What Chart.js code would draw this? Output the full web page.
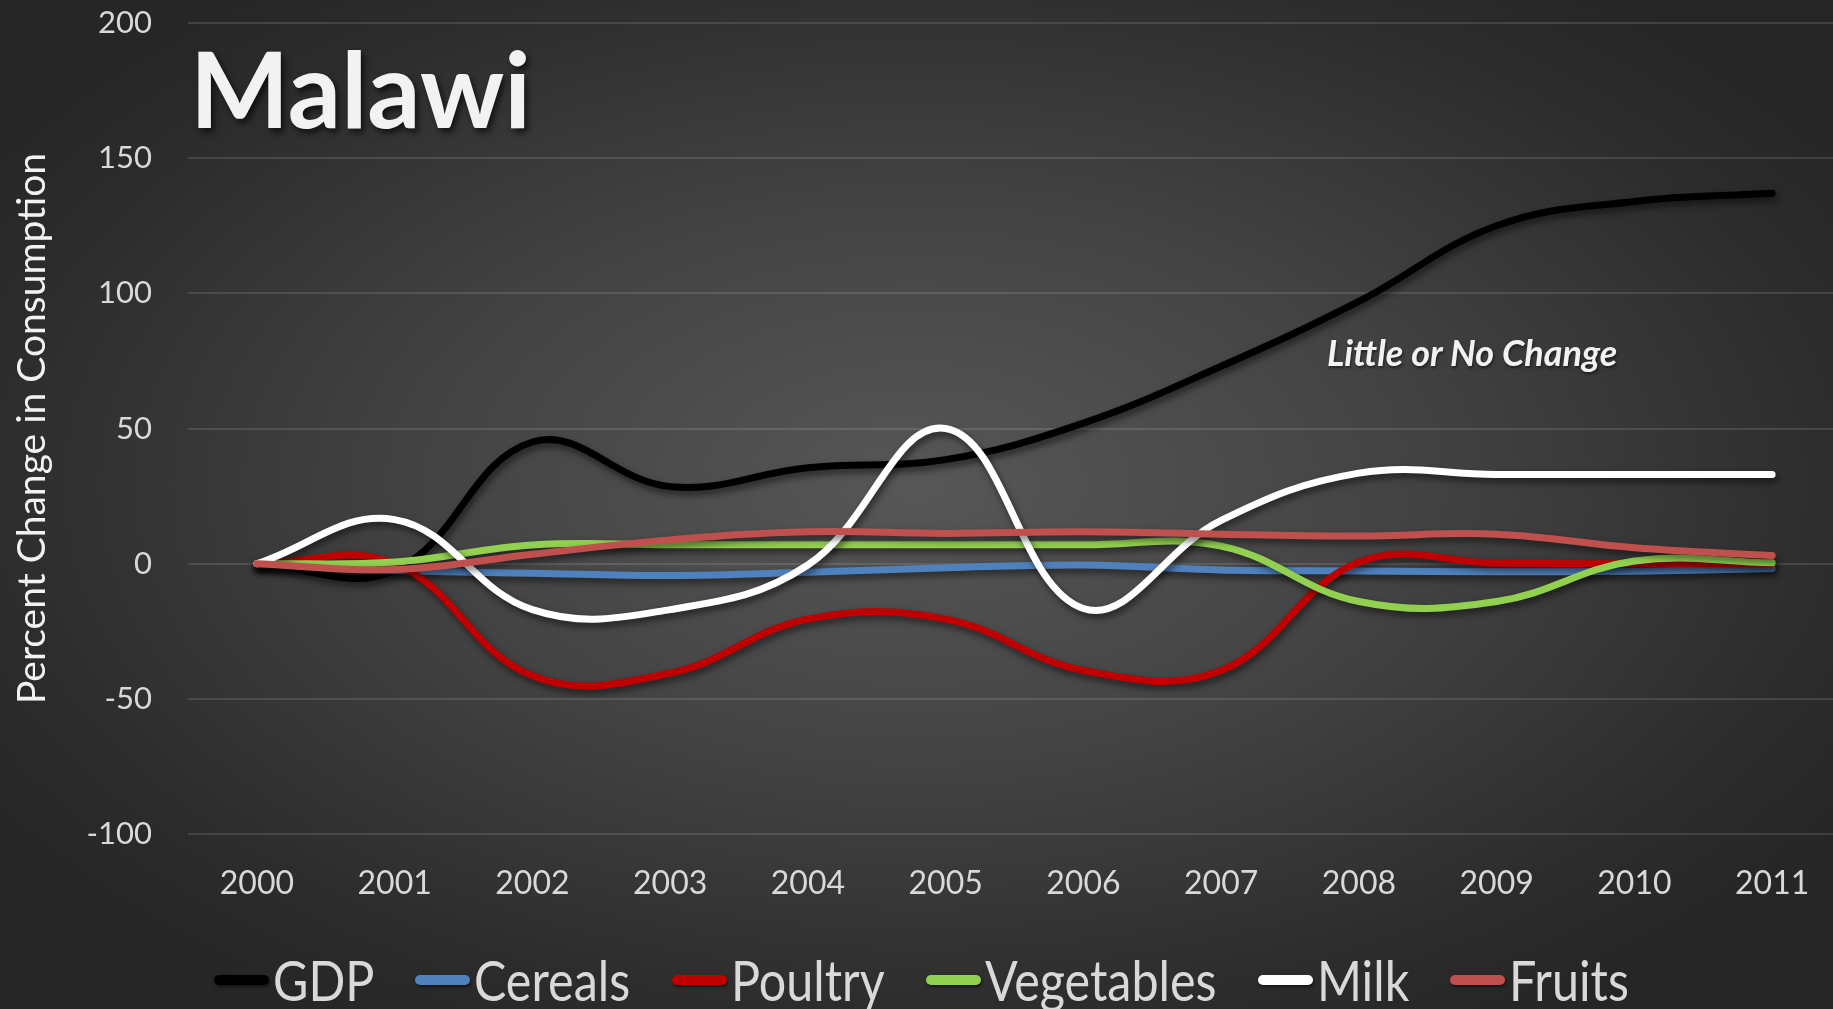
<!DOCTYPE html>
<html>
<head>
<meta charset="utf-8">
<script src="https://cdn.jsdelivr.net/npm/chart.js@4.4.1/dist/chart.umd.min.js"></script>
<style>
  html, body { margin: 0; padding: 0; }
  body {
    width: 1833px; height: 1009px; overflow: hidden; position: relative;
    background: radial-gradient(ellipse 60% 62% at 50% 48%, #575757 0%, #434343 45%, #2c2c2c 85%, #262626 100%);
    font-family: Lato, 'Open Sans', sans-serif;
  }
  #chart { position: absolute; left: 0; top: 0; }
  .title {
    position: absolute; left: 190px; top: 35px;
    font: bold 105px Lato, sans-serif; line-height: 1; color: #f2f2f2;
    text-shadow: 3px 4px 6px rgba(0,0,0,0.65);
  }
  .note {
    position: absolute; left: 1327px; top: 334px;
    font: italic bold 36px Lato, sans-serif; line-height: 1; color: #f2f2f2;
    text-shadow: 1px 2px 3px rgba(0,0,0,0.5);
  }
  #legend {
    position: absolute; left: 214px; top: 952px;
    display: flex; align-items: center; gap: 41px;
  }
  .item { display: flex; align-items: center; gap: 4px; }
  .swatch { width: 55px; height: 10px; border-radius: 5px; box-shadow: 1px 2px 3px rgba(0,0,0,0.5); }
  .label { display: inline-block; overflow: visible; white-space: nowrap; }
  .label span {
    display: inline-block; transform: scaleX(0.865); transform-origin: 0 50%;
    font: 56px Lato, sans-serif; line-height: 1; color: #d9d9d9;
  }
</style>
</head>
<body>
<canvas id="chart" width="1841" height="1009"></canvas>
<div class="title">Malawi</div>
<div class="note">Little or No Change</div>
<div id="legend"></div>
<script>
const years = ['2000', '2001', '2002', '2003', '2004', '2005', '2006', '2007', '2008', '2009', '2010', '2011'];

const gdp        = [0, -2.5, 45, 28.5, 35.5, 38.5, 52, 73, 97, 125, 134, 137];
const cereals    = [0, -2.5, -3.5, -4.4, -3.2, -1.5, -0.5, -2.3, -2.7, -3, -2.8, -1.8];
const poultry    = [0, 0, -41.5, -40.5, -20.5, -20.5, -39.5, -39.5, 0.5, 0.2, 0, 0];
const vegetables = [0, 0.6, 6.9, 7, 7, 7, 7, 6.5, -14, -14, 1, 0.3];
const milk       = [0, 16.3, -17, -17, -0.5, 50, -16.6, 16, 33.5, 33, 33, 33];
const fruits     = [0, -2.2, 3.5, 8.8, 11.8, 11.2, 11.8, 10.9, 10.2, 10.9, 5.9, 3];

const seriesNames  = ['GDP', 'Cereals', 'Poultry', 'Vegetables', 'Milk', 'Fruits'];
const seriesValues = [gdp, cereals, poultry, vegetables, milk, fruits];
const seriesColors = ['#000000', '#4f81bd', '#c00000', '#92d050', '#ffffff', '#c0504d'];

const yMin = -100, yMax = 200, yStep = 50;

// soft drop shadow under each line, like the Office style
const lineShadow = {
    id: 'lineShadow',
    beforeDatasetDraw(chart) {
        const c = chart.ctx;
        c.save();
        c.shadowColor = 'rgba(0, 0, 0, 0.55)';
        c.shadowBlur = 7;
        c.shadowOffsetX = 2;
        c.shadowOffsetY = 4;
    },
    afterDatasetDraw(chart) {
        chart.ctx.restore();
    }
};

const datasets = seriesNames.map((name, i) => ({
    label: name,
    data: seriesValues[i],
    borderColor: seriesColors[i],
    backgroundColor: seriesColors[i],
    borderWidth: 7,
    borderCapStyle: 'round',
    borderJoinStyle: 'round',
    tension: 0.4,
    pointRadius: 0,
    fill: false,
    order: seriesNames.length - i  // last series drawn on top
}));

new Chart(document.getElementById('chart'), {
    type: 'line',
    data: { labels: years, datasets: datasets },
    plugins: [lineShadow],
    options: {
        responsive: false,
        animation: false,
        layout: { padding: { top: 23, right: 0, bottom: 95, left: 0 } },
        plugins: {
            legend: { display: false },
            tooltip: { enabled: false }
        },
        scales: {
            x: {
                offset: true,
                grid: { display: false, drawTicks: false },
                border: { display: false },
                ticks: {
                    color: '#d9d9d9',
                    font: { family: 'Lato', size: 32 },
                    padding: 30,
                    maxRotation: 0,
                    autoSkip: false
                },
                afterFit: (scale) => { scale.height = 80; }
            },
            y: {
                min: yMin,
                max: yMax,
                grid: { color: 'rgba(255, 255, 255, 0.12)', lineWidth: 2, drawTicks: false },
                border: { display: false },
                ticks: {
                    stepSize: yStep,
                    color: '#d9d9d9',
                    font: { family: 'Lato', size: 31 },
                    padding: 36
                },
                title: {
                    display: true,
                    text: 'Percent Change in Consumption',
                    color: '#f2f2f2',
                    font: { family: 'Lato', size: 39 },
                    padding: { top: 9, bottom: 0 }
                },
                afterFit: (scale) => {
                    scale.width = 188;
                    // tick padding would otherwise push the plot top down
                    scale.paddingTop = 0;
                    scale.paddingBottom = 0;
                }
            }
        }
    }
});

// legend built from the same series lists
const legend = document.getElementById('legend');
seriesNames.forEach((name, i) => {
    const item = document.createElement('div');
    item.className = 'item';
    const sw = document.createElement('span');
    sw.className = 'swatch';
    sw.style.background = seriesColors[i];
    const lb = document.createElement('span');
    lb.className = 'label';
    const txt = document.createElement('span');
    txt.textContent = name;
    lb.appendChild(txt);
    item.appendChild(sw);
    item.appendChild(lb);
    legend.appendChild(item);
    // the scaled text keeps its layout width, so shrink the box to match
    lb.style.width = (txt.offsetWidth * 0.865) + 'px';
});
</script>
</body>
</html>
